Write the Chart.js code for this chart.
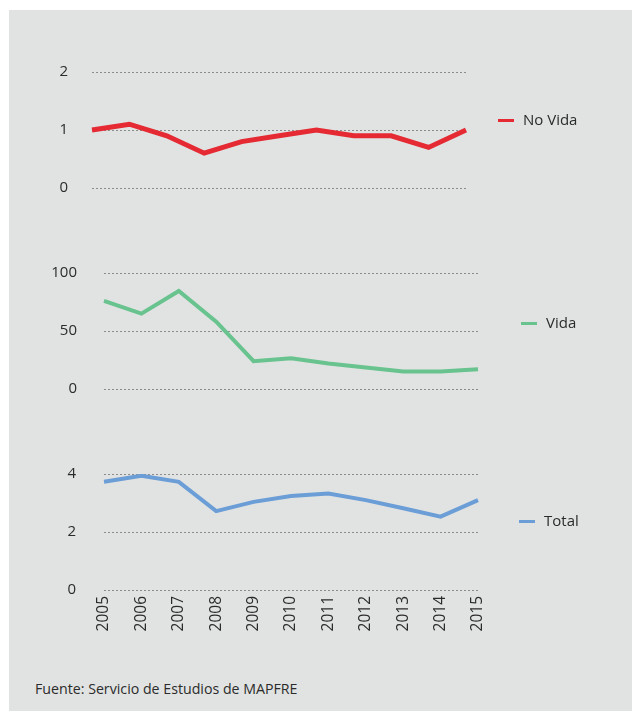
<!DOCTYPE html>
<html>
<head>
<meta charset="utf-8">
<script src="https://cdn.jsdelivr.net/npm/chart.js@4"></script>
<style>
  body { margin: 0; background: #fff; width: 632px; height: 711px; overflow: hidden; font-family: "Open Sans", sans-serif; }
  #panel { position: absolute; left: 9px; top: 10px; width: 623px; height: 701px; background: #e1e3e2; }
  canvas { position: absolute; left: 0; }
  .legend { position: absolute; font-size: 15px; color: #2b2b2b; line-height: 18px; }
  .legend span { display: inline-block; width: 16px; height: 3px; vertical-align: middle; margin-right: 9px; }
  #source { position: absolute; left: 35px; top: 679px; font-size: 14.2px; color: #2b2b2b; }
</style>
</head>
<body>
<div id="panel"></div>
<canvas id="noVidaChart" style="top:60px" width="632" height="140"></canvas>
<canvas id="vidaChart" style="top:260px" width="632" height="140"></canvas>
<canvas id="totalChart" style="top:460px" width="632" height="200"></canvas>
<div class="legend" style="left:498px; top:110px"><span style="background:#e52a33"></span>No Vida</div>
<div class="legend" style="left:521px; top:313px"><span style="background:#68c38e"></span>Vida</div>
<div class="legend" style="left:519px; top:511px"><span style="background:#6b9dd6"></span>Total</div>
<div id="source">Fuente: Servicio de Estudios de MAPFRE</div>
<script>
// Years on the x axis
const years = ['2005', '2006', '2007', '2008', '2009', '2010', '2011', '2012', '2013', '2014', '2015'];

// Series values
const noVida = [1.0, 1.1, 0.9, 0.6, 0.8, 0.9, 1.0, 0.9, 0.9, 0.7, 1.0];
const vida = [76, 65, 84.5, 58, 24, 26.5, 22, 18.5, 15, 15, 17];
const total = [3.73, 3.94, 3.73, 2.72, 3.04, 3.24, 3.33, 3.1, 2.82, 2.53, 3.1];

// Y tick ranges per panel
const noVidaTicks = [0, 1, 2];
const vidaTicks = [0, 50, 100];
const totalTicks = [0, 2, 4];

const tickColor = '#2b2b2b';
const gridColor = '#8c8c8c';

function makePanel(id, data, color, width, ticks, opts) {
    const ctx = document.getElementById(id);
    return new Chart(ctx, {
        type: 'line',
        data: {
            labels: years,
            datasets: [{
                data: data,
                borderColor: color,
                borderWidth: width,
                pointRadius: 0,
                tension: 0,
                fill: false
            }]
        },
        options: {
            responsive: false,
            animation: false,
            layout: { padding: { left: 0, right: opts.right, top: opts.top, bottom: opts.bottom } },
            plugins: { legend: { display: false }, tooltip: { enabled: false } },
            scales: {
                x: {
                    display: opts.showX,
                    offset: false,
                    grid: { display: false, drawTicks: false },
                    border: { display: false },
                    ticks: {
                        color: tickColor,
                        font: { family: 'Open Sans', size: 15.5 },
                        minRotation: 90,
                        maxRotation: 90,
                        padding: 6,
                        autoSkip: false
                    },
                    afterFit: axis => { axis.height = opts.xHeight || 0; }
                },
                y: {
                    min: ticks[0],
                    max: ticks[ticks.length - 1],
                    afterBuildTicks: axis => { axis.ticks = ticks.map(v => ({ value: v })); },
                    // invisible tick marks push the labels away from the plot
                    grid: { color: gridColor, lineWidth: 1, drawTicks: true, tickLength: opts.tickPad, tickColor: 'rgba(0,0,0,0)' },
                    border: { display: false, dash: [2, 2] },
                    ticks: {
                        color: tickColor,
                        font: { family: 'Open Sans', size: 15 },
                        padding: 0
                    },
                    afterFit: axis => { axis.width = opts.left; }
                }
            }
        }
    });
}

makePanel('noVidaChart', noVida, '#e52a33', 5, noVidaTicks,
    { left: 92, right: 632 - 466, top: 12, bottom: 12, tickPad: 24, showX: false });
makePanel('vidaChart', vida, '#68c38e', 4, vidaTicks,
    { left: 104, right: 632 - 478, top: 13, bottom: 11, tickPad: 27, showX: false });
makePanel('totalChart', total, '#6b9dd6', 4, totalTicks,
    { left: 104, right: 632 - 478, top: 14, bottom: 0, tickPad: 28, showX: true, xHeight: 70 });
</script>
</body>
</html>
